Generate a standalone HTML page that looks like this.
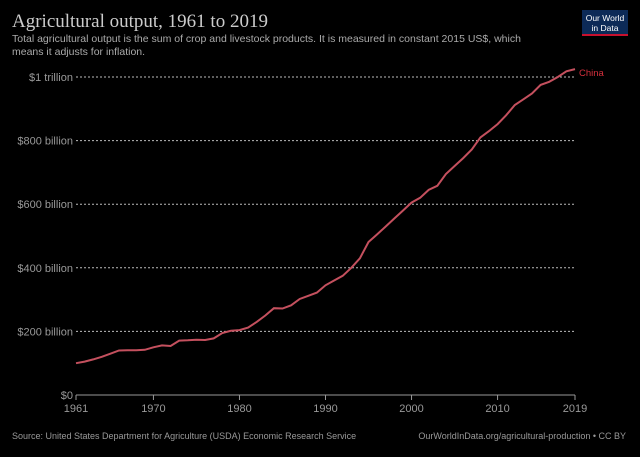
<!DOCTYPE html>
<html><head><meta charset="utf-8"><style>
body{margin:0;background:#000;width:640px;height:452px;overflow:hidden;font-family:"Liberation Sans",sans-serif}
</style></head><body>
<svg width="640" height="452">
<text x="12" y="27" font-family="Liberation Serif" font-size="19" fill="#ccc">Agricultural output, 1961 to 2019</text>
<text x="12" y="42" font-size="10.5" fill="#aaa">Total agricultural output is the sum of crop and livestock products. It is measured in constant 2015 US$, which</text>
<text x="12" y="55" font-size="10.5" fill="#aaa">means it adjusts for inflation.</text>
<g><rect x="582" y="10" width="46" height="26" fill="#0c2a57"/><rect x="582" y="34" width="46" height="2" fill="#c8102e"/>
<text x="605" y="21" font-size="8.5" fill="#fff" text-anchor="middle">Our World</text><text x="605" y="31" font-size="8.5" fill="#fff" text-anchor="middle">in Data</text></g>
<g id="grid"></g><g id="xax"></g>
<path id="line" fill="none" stroke="#c4505e" stroke-width="2"/>
<text id="lab" font-size="9.5" fill="#d6303d">China</text>
<text x="12" y="439" font-size="9" fill="#999">Source: United States Department for Agriculture (USDA) Economic Research Service</text>
<text x="626" y="439" font-size="9" fill="#999" text-anchor="end">OurWorldInData.org/agricultural-production • CC BY</text>
</svg>
<script>
const years=[];for(let y=1961;y<=2019;y++)years.push(y);
const values=[100,105,112,120,130,140,141,141,142,150,156,154,171,172,174,173,178,195,202,204,212,230,250,273,272,282,302,312,322,345,360,375,400,430,481,505,530,555,580,605,620,645,658,695,720,745,772,810,830,852,880,912,930,948,975,985,1000,1018,1025];
const yTicks=[0,200,400,600,800,1000];
const yTickLabels=["$0","$200 billion","$400 billion","$600 billion","$800 billion","$1 trillion"];
const xTicks=[1961,1970,1980,1990,2000,2010,2019];
const NS="http://www.w3.org/2000/svg";
const X=y=>76+(y-1961)*(575-76)/58, Y=v=>395-v*0.318;
const g=document.getElementById('grid'),xa=document.getElementById('xax');
yTicks.forEach((t,i)=>{
 const l=document.createElementNS(NS,'line');
 
 
 l.setAttribute('x1',76);l.setAttribute('x2',575);l.setAttribute('y1',Y(t));l.setAttribute('y2',Y(t));
 l.setAttribute('stroke',t===0?'#999':'#bbb');if(t!==0)l.setAttribute('stroke-dasharray','2,2');l.setAttribute('stroke-width','1');
 g.appendChild(l);
 const tx=document.createElementNS(NS,'text');
 
 
 tx.setAttribute('x',73);tx.setAttribute('y',Y(t)+4);tx.setAttribute('text-anchor','end');tx.setAttribute('font-size','11');tx.setAttribute('fill','#999');
 tx.textContent=yTickLabels[i];g.appendChild(tx);
});
xTicks.forEach(t=>{
 const l=document.createElementNS(NS,'line');
 
 
 l.setAttribute('x1',X(t));l.setAttribute('x2',X(t));l.setAttribute('y1',395);l.setAttribute('y2',400);l.setAttribute('stroke','#999');
 xa.appendChild(l);
 const tx=document.createElementNS(NS,'text');
 
 
 tx.setAttribute('x',X(t));tx.setAttribute('y',412);tx.setAttribute('text-anchor','middle');tx.setAttribute('font-size','11');tx.setAttribute('fill','#999');
 tx.textContent=t;xa.appendChild(tx);
});
document.getElementById('line').setAttribute('d',values.map((v,i)=>(i?'L':'M')+X(years[i]).toFixed(1)+','+Y(v).toFixed(1)).join(''));
const lab=document.getElementById('lab');lab.setAttribute('x',X(2019)+4);lab.setAttribute('y',Y(values[values.length-1])+7);
</script>
</body></html>
